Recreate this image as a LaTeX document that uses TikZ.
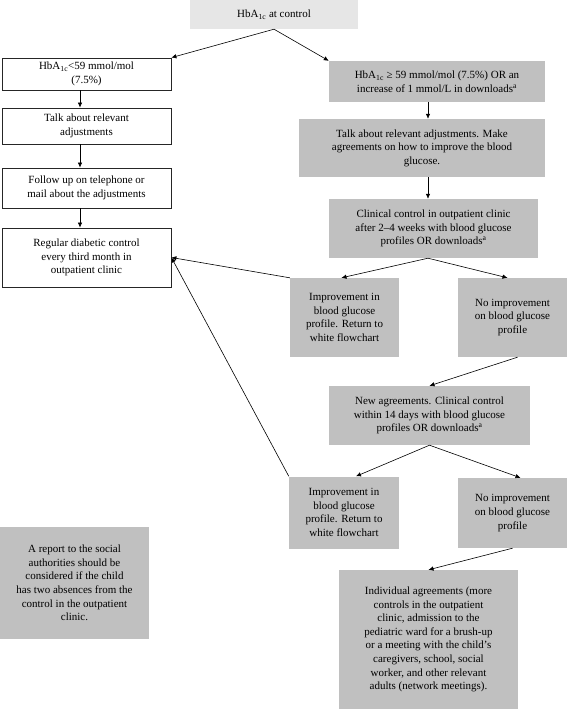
\documentclass[tikz,border=0pt]{standalone}
\usepackage{fontspec}
\setmainfont{Liberation Serif}
\usetikzlibrary{arrows.meta}
\definecolor{lightbox}{RGB}{230,230,230}
\definecolor{darkbox}{RGB}{192,192,192}

\begin{document}
\begin{tikzpicture}[x=1pt, y=-1pt, every node/.style={font=\fontsize{11}{13.6}\selectfont, align=center, inner sep=2pt}, >={Latex[length=5pt, width=4.5pt]},
	plainbox/.style={draw=black!85, line width=0.8pt, fill=white},
	greybox/.style={fill=darkbox},
	flow/.style={->, line width=0.6pt}]
	\useasboundingbox (0,0) rectangle (568,710);
	\node[fill=lightbox, minimum width=168pt, minimum height=29pt] (top) at (274,14.5) {HbA\textsubscript{1c} at control};
	\node[plainbox, minimum width=169pt, minimum height=32pt] (hiL) at (86.5,74) {HbA\textsubscript{1c}<59 mmol/mol\\(7.5\%)};
	\node[plainbox, minimum width=169pt, minimum height=36pt] (talkL) at (86.5,126) {Talk about relevant\\adjustments};
	\node[plainbox, minimum width=169pt, minimum height=40pt] (follow) at (86.5,188) {Follow up on telephone or\\mail about the adjustments};
	\node[plainbox, minimum width=169pt, minimum height=59pt] (regular) at (86.5,257.5) {Regular diabetic control\\every third month in\\outpatient clinic};
	\node[greybox, minimum width=216pt, minimum height=41pt] (hi) at (437,81.5) {HbA\textsubscript{1c} ≥ 59 mmol/mol (7.5\%) OR an\\increase of 1 mmol/L in downloads\textsuperscript{a}};
	\node[greybox, minimum width=246pt, minimum height=58pt] (talkR) at (422,148) {Talk about relevant adjustments. Make\\agreements on how to improve the blood\\glucose.};
	\node[greybox, minimum width=209pt, minimum height=59pt] (clinic) at (433.5,228.5) {Clinical control in outpatient clinic\\after 2--4 weeks with blood glucose\\profiles OR downloads\textsuperscript{a}};
	\node[greybox, minimum width=109pt, minimum height=79pt] (imp1) at (344.5,317.5) {Improvement in\\blood glucose\\profile. Return to\\white flowchart};
	\node[greybox, minimum width=109pt, minimum height=79pt] (noimp1) at (512.5,317.5) {No improvement\\on blood glucose\\profile};
	\node[greybox, minimum width=201pt, minimum height=59pt] (newag) at (429.5,415.5) {New agreements. Clinical control\\within 14 days with blood glucose\\profiles OR downloads\textsuperscript{a}};
	\node[greybox, minimum width=110pt, minimum height=72pt] (imp2) at (344,512.5) {Improvement in\\blood glucose\\profile. Return to\\white flowchart};
	\node[greybox, minimum width=109pt, minimum height=70pt] (noimp2) at (512.5,513) {No improvement\\on blood glucose\\profile};
	\node[greybox, minimum width=179pt, minimum height=139pt] (indiv) at (428.5,639.5) {Individual agreements (more\\controls in the outpatient\\clinic, admission to the\\pediatric ward for a brush-up\\or a meeting with the child's\\caregivers, school, social\\worker, and other relevant\\adults (network meetings).};
	\node[greybox, minimum width=149pt, minimum height=112pt] (report) at (74.5,583) {A report to the social\\authorities should be\\considered if the child\\has two absences from the\\control in the outpatient\\clinic.};
	\coordinate (lcol) at (80,0);
	\coordinate (rcol) at (428,0);
	\draw[flow] (top.south) -- (hiL.north east);
	\draw[flow] (top.south) -- (hi.north west);
	\draw[flow] (hiL.south -| lcol) -- (talkL.north -| lcol);
	\draw[flow] (talkL.south -| lcol) -- (follow.north -| lcol);
	\draw[flow] (follow.south -| lcol) -- (regular.north -| lcol);
	\draw[flow] (hi.south -| rcol) -- (talkR.north -| rcol);
	\draw[flow] (talkR.south -| rcol) -- (clinic.north -| rcol);
	\draw[flow] (clinic.south -| rcol) -- ([xshift=-3pt]imp1.north);
	\draw[flow] (clinic.south -| rcol) -- ([xshift=-5pt]noimp1.north);
	\draw[flow] (imp1.north west) -- (regular.east);
	\draw[flow] ([xshift=5pt]noimp1.south) -- (newag.north);
	\draw[flow] (newag.south) -- ([xshift=12pt]imp2.north);
	\draw[flow] (newag.south) -- ([xshift=8pt]noimp2.north);
	\draw[flow] (imp2.north west) -- (regular.east);
	\draw[flow] (noimp2.south) -- (indiv.north);
\end{tikzpicture}
\end{document}
